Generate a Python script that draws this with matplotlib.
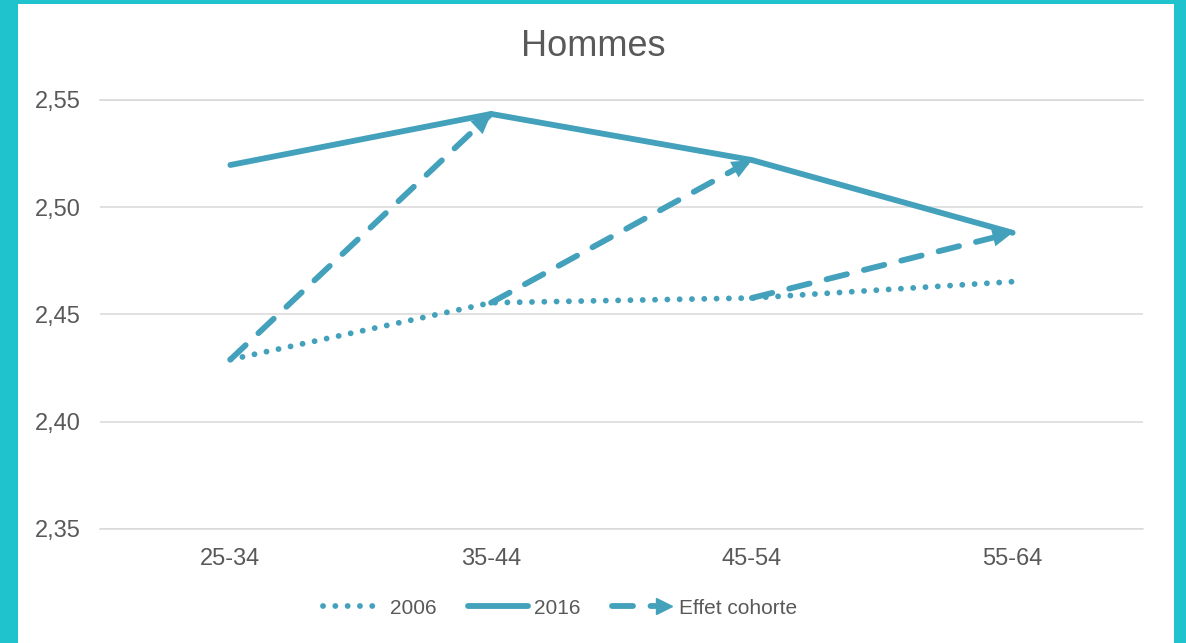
import matplotlib.pyplot as plt
from matplotlib.lines import Line2D
from matplotlib.patches import Rectangle
from matplotlib.legend_handler import HandlerBase

plt.rcParams['font.family'] = ['Liberation Sans', 'DejaVu Sans']

ages = ['25-34', '35-44', '45-54', '55-64']
v2006 = [2.429, 2.4555, 2.4577, 2.4653]
v2016 = [2.5197, 2.5435, 2.522, 2.4881]
yticks = [2.35, 2.40, 2.45, 2.50, 2.55]

C = '#43A1BC'
GREY = '#595959'
LW = 4.2
DASH = (3.6, 3.0)
DOT = (0.01, 2.1)


class ArrowHandler(HandlerBase):
    def create_artists(self, legend, orig, xdescent, ydescent, width, height, fontsize, trans):
        y = height / 2 - ydescent
        x0, x1 = -xdescent, width - xdescent
        line = Line2D([x0, x1 - 8], [y, y], color=C, lw=LW, linestyle=(0, DASH),
                      dash_capstyle='round', transform=trans)
        head = Line2D([x1 - 6], [y], color=C, marker='>', ms=12, lw=0, transform=trans)
        return [line, head]


fig = plt.figure(figsize=(11.86, 6.43), dpi=100)
fig.patch.set_facecolor('#1FC3CD')
fig.add_artist(Rectangle((18 / 1186, 0), (1174 - 18) / 1186, 1 - 4 / 643,
                         transform=fig.transFigure, facecolor='white', edgecolor='none', zorder=-1))

ax = fig.add_axes([100 / 1186, 1 - 529 / 643, 1043 / 1186, 429 / 643])
ax.set_zorder(1)
ax.set_facecolor('none')
x = list(range(len(ages)))

ax.plot(x, v2006, color=C, lw=LW, linestyle=(0, DOT), dash_capstyle='round', zorder=3)
ax.plot(x, v2016, color=C, lw=LW, solid_capstyle='round', solid_joinstyle='round', zorder=3)

# effet cohorte: 2006 age group i -> 2016 age group i+1
for i in range(len(ages) - 1):
    ax.plot([i, i + 1], [v2006[i], v2016[i + 1]], color=C, lw=LW, linestyle=(0, DASH),
            dash_capstyle='round', zorder=4)
    ax.annotate('', xy=(i + 1, v2016[i + 1]), xytext=(i, v2006[i]),
                arrowprops=dict(arrowstyle='-|>,head_length=0.72,head_width=0.32', lw=0,
                                color=C, shrinkA=0, shrinkB=0, mutation_scale=20), zorder=5)

ax.set_xlim(-0.5, 3.5)
ax.set_ylim(2.35, 2.55)
ax.set_xticks(x)
ax.set_xticklabels(ages)
ax.set_yticks(yticks)
ax.set_yticklabels([f'{v:.2f}'.replace('.', ',') for v in yticks])
ax.tick_params(length=0, labelsize=17, labelcolor=GREY)
ax.tick_params(axis='x', pad=14)
ax.tick_params(axis='y', pad=14)
ax.grid(axis='y', color='#D9D9D9', lw=1.1)
for s in ['left', 'right']:
    ax.spines[s].set_visible(False)
for s in ['top', 'bottom']:
    ax.spines[s].set_color('#D9D9D9')
    ax.spines[s].set_linewidth(1.1)

fig.text(0.5, 1 - 46 / 643, 'Hommes', ha='center', va='center', fontsize=26, color=GREY)

h2006 = Line2D([], [], color=C, lw=LW, linestyle=(0, DOT), dash_capstyle='round')
h2016 = Line2D([], [], color=C, lw=LW, solid_capstyle='round')
hcoh = Line2D([], [], color=C)
fig.legend([h2006, h2016, hcoh], ['2006', '2016', 'Effet cohorte'],
           handler_map={hcoh: ArrowHandler()},
           loc='center', bbox_to_anchor=(560 / 1186, 1 - 608 / 643), ncol=3, frameon=False,
           fontsize=15, labelcolor=GREY, handlelength=2.9, handletextpad=0.3,
           columnspacing=1.5)

fig.savefig('out.png', dpi=100)
